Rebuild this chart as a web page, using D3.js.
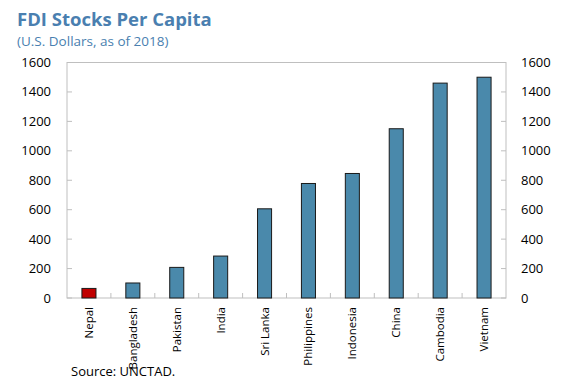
<!DOCTYPE html>
<html lang="en">
<head>
  <meta charset="UTF-8" />
  <title>FDI Stocks Per Capita</title>
  <script src="https://d3js.org/d3.v7.min.js"></script>
  <style>
    body { margin: 0; background: #fff; font-family: "Open Sans", "Noto Sans", Arial, sans-serif; }
    svg { display: block; }
    .title { font-size: 18.5px; font-weight: bold; fill: #4a7fb0; }
    .subtitle { font-size: 13.5px; fill: #4a7fb0; }
    .tick-label { font-size: 13px; fill: #000; }
    .cat-label { font-size: 11.5px; fill: #000; }
    .source { font-size: 13px; fill: #000; }
  </style>
</head>
<body>

<svg width="587" height="381"></svg>

<script>
  // Données
  const countries = ["Nepal", "Bangladesh", "Pakistan", "India", "Sri Lanka",
                     "Philippines", "Indonesia", "China", "Cambodia", "Vietnam"];
  const fdiPerCapita = [65, 102, 208, 285, 606, 778, 846, 1150, 1460, 1500];
  const highlight = ["Nepal"];
  const yTicks = [0, 200, 400, 600, 800, 1000, 1200, 1400, 1600];

  const svg = d3.select("svg"),
        margin = {top: 62.5, right: 81, bottom: 83, left: 67},
        width = 587 - margin.left - margin.right,
        height = 381 - margin.top - margin.bottom;

  const data = countries.map((c, i) => ({country: c, value: fdiPerCapita[i]}));

  // Titres
  svg.append("text").attr("class", "title")
    .attr("x", 17).attr("y", 26)
    .text("FDI Stocks Per Capita");
  svg.append("text").attr("class", "subtitle")
    .attr("x", 17).attr("y", 46)
    .text("(U.S. Dollars, as of 2018)");

  const g = svg.append("g").attr("transform", `translate(${margin.left},${margin.top})`);

  // Échelles
  const x = d3.scaleBand()
    .domain(countries)
    .range([0, width])
    .paddingInner(0.68)
    .paddingOuter(0.34);

  const y = d3.scaleLinear()
    .domain([0, 1600])
    .range([height, 0]);

  // Cadre
  g.append("rect")
    .attr("x", 0).attr("y", 0)
    .attr("width", width).attr("height", height)
    .attr("fill", "none")
    .attr("stroke", "#bfbfbf")
    .attr("stroke-width", 1);

  // Graduations gauche et droite (vers l'intérieur)
  yTicks.forEach(t => {
    g.append("line")
      .attr("x1", 0).attr("x2", 5)
      .attr("y1", y(t)).attr("y2", y(t))
      .attr("stroke", "#bfbfbf");
    g.append("line")
      .attr("x1", width - 5).attr("x2", width)
      .attr("y1", y(t)).attr("y2", y(t))
      .attr("stroke", "#bfbfbf");
    g.append("text").attr("class", "tick-label")
      .attr("x", -16).attr("y", y(t))
      .attr("dy", "0.35em")
      .attr("text-anchor", "end")
      .text(t);
    g.append("text").attr("class", "tick-label")
      .attr("x", width + 15).attr("y", y(t))
      .attr("dy", "0.35em")
      .attr("text-anchor", "start")
      .text(t);
  });

  // Graduations bas, entre les catégories
  countries.slice(1).forEach((c, i) => {
    const xb = (i + 1) * (width / countries.length);
    g.append("line")
      .attr("x1", xb).attr("x2", xb)
      .attr("y1", height - 5).attr("y2", height)
      .attr("stroke", "#bfbfbf");
  });

  // Barres
  g.selectAll(".bar")
    .data(data)
    .enter()
    .append("rect")
    .attr("class", "bar")
    .attr("x", d => x(d.country))
    .attr("y", d => y(d.value))
    .attr("width", x.bandwidth())
    .attr("height", d => height - y(d.value))
    .attr("fill", d => highlight.includes(d.country) ? "#c00000" : "#4a89ab")
    .attr("stroke", "#1a1a1a")
    .attr("stroke-width", 1);

  // Étiquettes des pays
  g.selectAll(".cat-label")
    .data(countries)
    .enter()
    .append("text")
    .attr("class", "cat-label")
    .attr("transform", d => `translate(${x(d) + x.bandwidth() / 2},${height + 9}) rotate(-90)`)
    .attr("dy", "0.35em")
    .attr("text-anchor", "end")
    .text(d => d);

  // Source
  svg.append("text").attr("class", "source")
    .attr("x", 71).attr("y", 376)
    .text("Source: UNCTAD.");
</script>

</body>
</html>
